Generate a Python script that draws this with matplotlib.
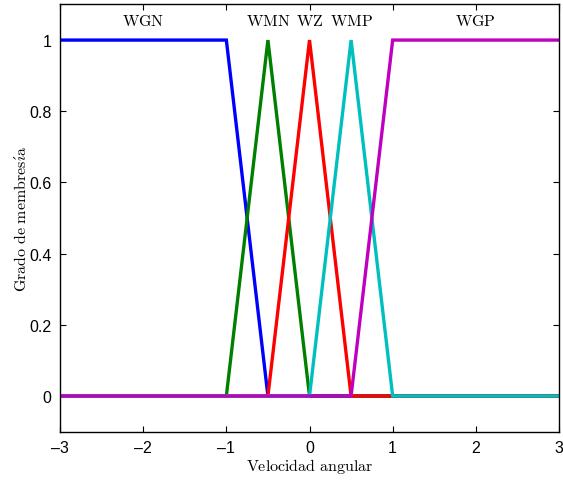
import numpy as np
import matplotlib
matplotlib.use("Agg")
import matplotlib.pyplot as plt

# membership functions (breakpoints and values)
x_range = [-3, 3]
wgn_x = [-3, -1, -0.5, 3]
wgn_y = [1, 1, 0, 0]
wmn_x = [-3, -1, -0.5, 0, 3]
wmn_y = [0, 0, 1, 0, 0]
wz_x = [-3, -0.5, 0, 0.5, 3]
wz_y = [0, 0, 1, 0, 0]
wmp_x = [-3, 0, 0.5, 1, 3]
wmp_y = [0, 0, 1, 0, 0]
wgp_x = [-3, 0.5, 1, 3]
wgp_y = [0, 0, 1, 1]

labels = ["WGN", "WMN", "WZ", "WMP", "WGP"]
label_x = [-2, -0.5, 0, 0.5, 2]
colors = ["#0000ff", "#008000", "#ff0000", "#00bfbf", "#bf00bf"]

plt.rcParams['mathtext.fontset'] = 'cm'
plt.rcParams['axes.unicode_minus'] = False

fig = plt.figure(figsize=(5.63, 4.81), dpi=100)
ax = fig.add_axes([0.1066, 0.1006, 0.8863, 0.888])

series = [(wgn_x, wgn_y), (wmn_x, wmn_y), (wz_x, wz_y), (wmp_x, wmp_y), (wgp_x, wgp_y)]
for (xs, ys), c in zip(series, colors):
    ax.plot(xs, ys, color=c, lw=2.4, solid_joinstyle='miter')

for lab, lx in zip(labels, label_x):
    ax.text(lx, 1.055, r'$\mathrm{%s}$' % lab, ha='center', va='center', fontsize=11.5)

ax.set_xlim(x_range)
ax.set_ylim(-0.1, 1.1)
ax.set_xticks([-3, -2, -1, 0, 1, 2, 3])
ax.set_xticklabels(['\u20133', '\u20132', '\u20131', '0', '1', '2', '3'])
ax.set_yticks([0, 0.2, 0.4, 0.6, 0.8, 1])
ax.set_yticklabels(['0', '0.2', '0.4', '0.6', '0.8', '1'])
ax.tick_params(direction='in', top=True, right=True, length=4, width=0.8,
               labelsize=11.5, pad=6)
for t in ax.get_xticklabels() + ax.get_yticklabels():
    t.set_fontfamily('Liberation Sans')
for s in ax.spines.values():
    s.set_linewidth(1.0)

ax.set_xlabel(r'$\mathrm{Velocidad\ angular}$', fontsize=11.5, labelpad=1)
ax.set_ylabel(r'$\mathrm{Grado\ de\ membres\acute{\imath}a}$', fontsize=11.5, labelpad=0)

fig.savefig("out.png", dpi=100)
